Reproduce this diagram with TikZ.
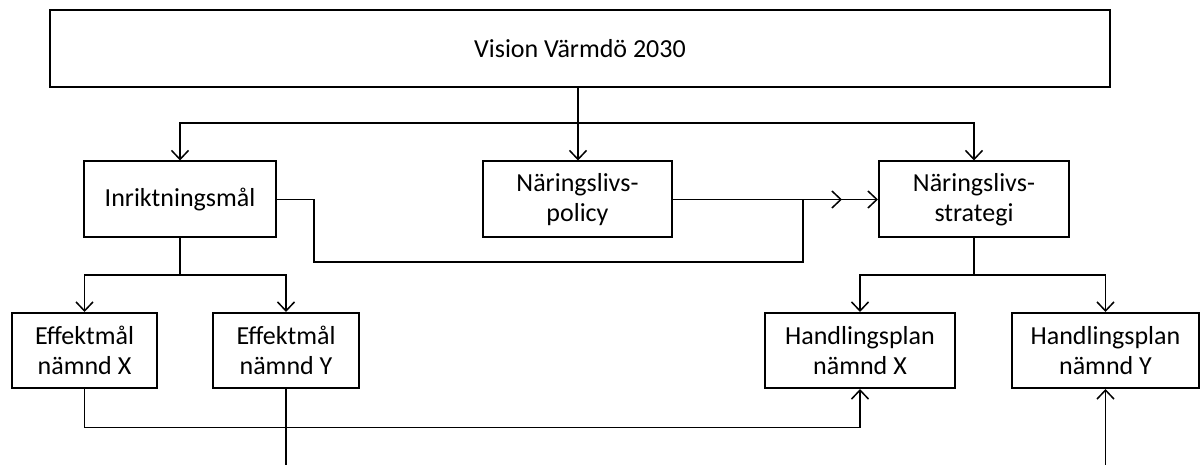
\documentclass[tikz,border=0pt]{standalone}
\usepackage{fontspec}
\setmainfont{Carlito}
\usetikzlibrary{arrows.meta}
\tikzset{
  box/.style={draw, line width=2pt, inner sep=0pt, align=center,
    minimum height=76pt, font=\fontsize{26}{30}\selectfont},
  link/.style={line width=1.8pt},
  >={Straight Barb[length=9pt,width=17pt,line width=1.5pt]}
}
\begin{document}
\begin{tikzpicture}[x=1pt,y=-1pt]
\useasboundingbox (0,0) rectangle (1200,465);
\node[box, minimum width=1060pt, minimum height=77pt] (vision) at (580,48.5) {Vision Värmdö 2030};
\node[box, minimum width=192pt] (inr) at (180,199.5) {Inriktningsmål};
\node[box, minimum width=189pt] (policy) at (577.5,199.5) {Näringslivs-\\policy};
\node[box, minimum width=190pt] (strategi) at (974,199.5) {Näringslivs-\\strategi};
\node[box, minimum width=145pt, minimum height=75pt] (effx) at (84.5,350.5) {Effektmål\\nämnd X};
\node[box, minimum width=146pt, minimum height=75pt] (effy) at (286,350.5) {Effektmål\\nämnd Y};
\node[box, minimum width=190pt, minimum height=75pt] (hpx) at (860,350.5) {Handlingsplan\\nämnd X};
\node[box, minimum width=187pt, minimum height=75pt] (hpy) at (1105.5,350.5) {Handlingsplan\\nämnd Y};
\coordinate (topbus) at (578,123);
\coordinate (inrbus) at (180,275);
\coordinate (stratbus) at (974,275);
\coordinate (merge) at (842,199.5);
\coordinate (effyend) at (286,465);
\coordinate (hpystart) at (1105.5,465);
% from the vision
\draw[link] (vision.south -| topbus) -- (topbus);
\draw[link,->] (topbus) -| (inr.north);
\draw[link,->] (topbus) -- (policy.north -| topbus);
\draw[link,->] (topbus) -| (strategi.north);
% goals and policy into the strategy
\draw[link,->] (inr.east) -| (314,262) -| (803,199.5) -- (merge);
\draw[link,->] (policy.east) -- (strategi.west);
% second level
\draw[link] (inr.south) -- (inrbus);
\draw[link,->] (inrbus) -| (effx.north);
\draw[link,->] (inrbus) -| (effy.north);
\draw[link] (strategi.south) -- (stratbus);
\draw[link,->] (stratbus) -| (hpx.south |- hpx.north);
\draw[link,->] (stratbus) -| (hpy.north);
% bottom links
\draw[link,->] (effx.south) -- ++(0,38.5) -| (hpx.south);
\draw[link] (effy.south) -- (effyend);
\draw[link,->] (hpystart) -- (hpy.south);
\end{tikzpicture}
\end{document}
